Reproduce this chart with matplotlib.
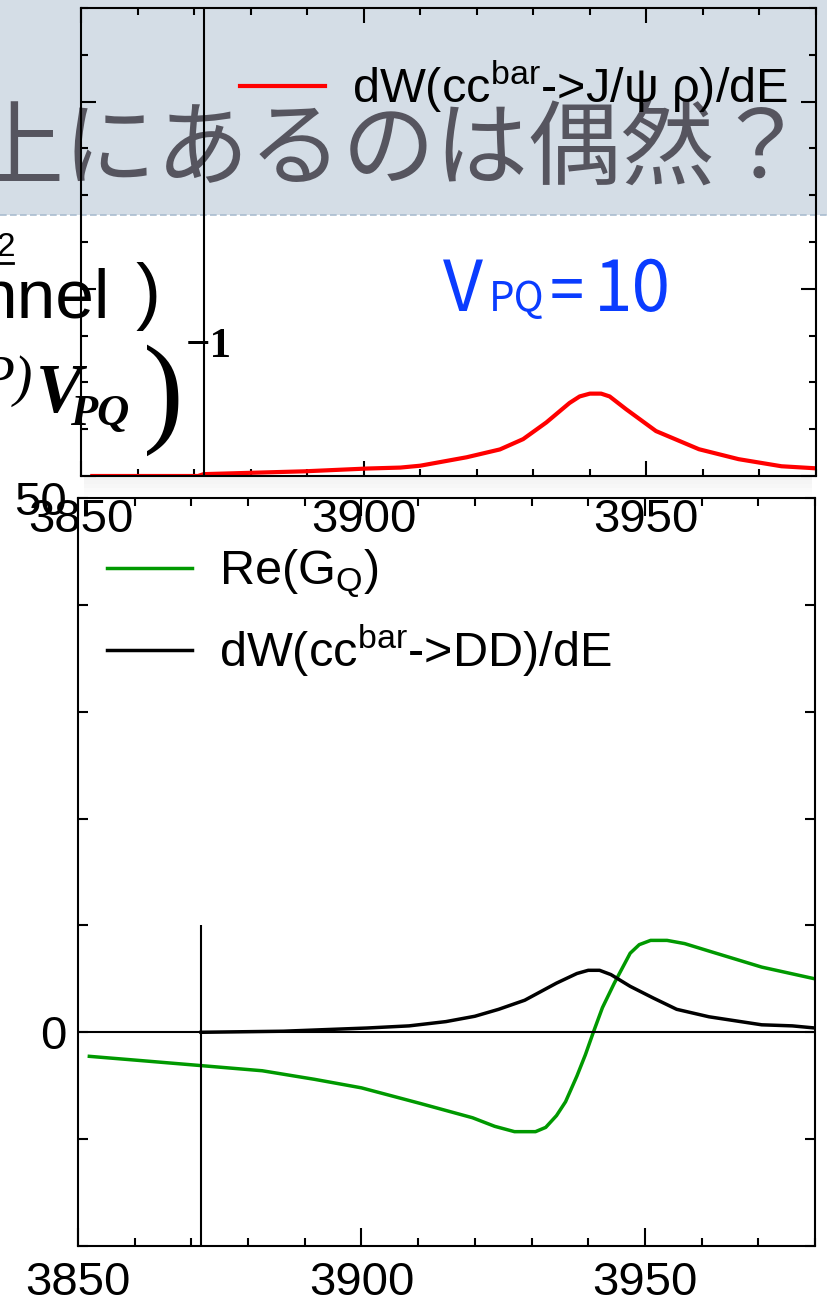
import matplotlib
matplotlib.use("Agg")
import matplotlib.pyplot as plt
from matplotlib.patches import Rectangle
from matplotlib.lines import Line2D
from matplotlib.ticker import MultipleLocator, FuncFormatter

plt.rcParams['font.family'] = ['Liberation Sans', 'DejaVu Sans']
plt.rcParams['mathtext.fontset'] = 'custom'
plt.rcParams['mathtext.rm'] = 'Liberation Sans'
plt.rcParams['mathtext.it'] = 'Liberation Sans:italic'
plt.rcParams['mathtext.bf'] = 'Liberation Sans:bold'

# 上段: dW(cc^bar -> J/psi rho)/dE  (V_PQ = 10)
e_jpsi = [3852, 3870.7, 3871.7, 3889.5, 3900.7, 3906.5, 3910, 3918.2, 3924.1, 3928.2,
          3932.3, 3936.4, 3938.2, 3940, 3942, 3943.5, 3946.4, 3951.7, 3959.3, 3966.3,
          3973.9, 3980]
w_jpsi = [0.0, 0.0, 0.01, 0.025, 0.04, 0.045, 0.055, 0.10, 0.142, 0.197,
          0.286, 0.39, 0.425, 0.44, 0.44, 0.425, 0.357, 0.24, 0.143, 0.09,
          0.052, 0.041]

# 下段: Re(G_Q)
e_g = [3852, 3860, 3871.3, 3882.5, 3891.7, 3900, 3910.3, 3919.6, 3923.5, 3927, 3930.7,
       3932.5, 3934.4, 3936, 3938, 3939.5, 3940.9, 3942.5, 3944.6, 3947.4, 3949, 3951,
       3953.9, 3957, 3961.3, 3970.6, 3980]
re_g = [-2.25, -2.6, -3.1, -3.6, -4.4, -5.2, -6.65, -8.0, -8.8, -9.3, -9.3,
        -8.9, -7.8, -6.5, -4.1, -2.1, 0.0, 2.3, 4.6, 7.4, 8.2, 8.6,
        8.6, 8.3, 7.6, 6.1, 5.0]

# 下段: dW(cc^bar -> DD)/dE
e_dd = [3871.7, 3886.2, 3901, 3908.4, 3914.9, 3920, 3924.2, 3928.8, 3934.4, 3938,
        3940, 3942, 3944, 3947.4, 3951.5, 3955.6, 3961.3, 3970.6, 3976, 3980]
w_dd = [0, 0.1, 0.4, 0.6, 1.0, 1.5, 2.15, 3.0, 4.6, 5.5,
        5.8, 5.8, 5.4, 4.3, 3.2, 2.15, 1.45, 0.7, 0.6, 0.4]

e_th = 3871.7   # しきい値の縦線

W, H = 827, 1308
def fx(px):
    return px / W
def fy(py):
    return 1 - py / H

fig = plt.figure(figsize=(8.27, 13.08), dpi=100)
fig.patch.set_facecolor('white')

# スライドのタイトル帯
fig.add_artist(Rectangle((0, fy(215)), 1, 215 / H, transform=fig.transFigure,
                         facecolor='#d4dde6', edgecolor='none', zorder=-2))
fig.add_artist(Line2D([0, 1], [fy(215), fy(215)], transform=fig.transFigure,
                      color='#a9bccf', lw=1.2, ls=(0, (4, 2)), zorder=-2))
# 上のパネルの下の影
for i, a in enumerate([0.05, 0.04, 0.03, 0.02, 0.01]):
    fig.add_artist(Rectangle((fx(84), fy(480 + 4 * i)), (812 - 84) / W, 4 / H,
                             transform=fig.transFigure, facecolor='black', alpha=a,
                             edgecolor='none', zorder=-1))
fig.text(fx(-30), fy(178), '上にあるのは偶然？', fontsize=67, color='#56555f',
         family=['Noto Sans CJK JP', 'DejaVu Sans'], va='baseline', zorder=-1)

# ---- 上のパネル
ax1 = fig.add_axes([fx(81), fy(476), (816 - 81) / W, (476 - 8) / H])
ax1.set_facecolor('none')
ax1.set_zorder(1)
ax1.plot(e_jpsi, w_jpsi, color='#ff0000', lw=3, label='dW(cc$^{\\mathrm{bar}}$->J/ψ ρ)/dE')
ax1.axvline(e_th, color='black', lw=1.5)
ax1.set_xlim(3850, 3980)
ax1.set_ylim(0, 2.5)
ax1.xaxis.set_major_locator(MultipleLocator(50))
ax1.xaxis.set_minor_locator(MultipleLocator(10))
ax1.yaxis.set_major_locator(MultipleLocator(1))
ax1.yaxis.set_minor_locator(MultipleLocator(0.25))
ax1.tick_params(which='both', direction='in', top=True, right=True, width=1.5,
                labelleft=False, labelsize=34, pad=16)
ax1.tick_params(which='major', length=11)
ax1.tick_params(which='minor', length=5)
for s in ax1.spines.values():
    s.set_linewidth(1.5)
ax1.legend(loc='upper left', bbox_to_anchor=(fx(240), fy(58)), bbox_transform=fig.transFigure,
           frameon=False, fontsize=35, handlelength=1.75, handletextpad=0.55,
           borderpad=0, borderaxespad=0)

# ---- 下のパネル
ax2 = fig.add_axes([fx(78), fy(1246), (815 - 78) / W, (1246 - 498) / H])
ax2.plot(e_g, re_g, color='#009900', lw=2.5, label=r'Re(G$_{\mathrm{Q}}$)')
ax2.plot(e_dd, w_dd, color='black', lw=2.5, label=r'dW(cc$^{\mathrm{bar}}$->DD)/dE')
ax2.axhline(0, color='black', lw=1.5)
ax2.vlines(e_th, -20, 10, color='black', lw=1.5)
ax2.set_xlim(3850, 3980)
ax2.set_ylim(-20, 50)
ax2.xaxis.set_major_locator(MultipleLocator(50))
ax2.xaxis.set_minor_locator(MultipleLocator(10))
ax2.yaxis.set_major_locator(MultipleLocator(10))
ax2.yaxis.set_major_formatter(FuncFormatter(lambda v, p: '%d' % v if v in (0, 50) else ''))
ax2.tick_params(which='both', direction='in', top=True, right=True, width=1.5, labelsize=34)
ax2.tick_params(axis='x', which='major', length=13, pad=11)
ax2.tick_params(axis='x', which='minor', length=6)
ax2.tick_params(axis='y', which='major', length=7, pad=8)
for s in ax2.spines.values():
    s.set_linewidth(1.5)
ax2.legend(loc='upper left', bbox_to_anchor=(fx(107), fy(548)), bbox_transform=fig.transFigure,
           frameon=False, fontsize=35, handlelength=1.75, handletextpad=0.55,
           labelspacing=0.45, borderpad=0, borderaxespad=0)

# ---- スライド側の文字 (切れた数式など)
fig.text(fx(-4), fy(256), '2', fontsize=24, va='baseline')
fig.add_artist(Line2D([fx(0), fx(13)], [fy(263), fy(263)], transform=fig.transFigure,
                      color='black', lw=2))
fig.text(fx(-22), fy(318), 'nnel', fontsize=50, va='baseline')
fig.text(fx(136), fy(316), ')', fontsize=54, va='baseline')
serif = ['Liberation Serif', 'DejaVu Serif']
fig.text(fx(-20), fy(395), 'P)', fontsize=40, family=serif, style='italic', va='baseline')
fig.text(fx(36), fy(412), 'V', fontsize=50, family=serif, style='italic', weight='bold', va='baseline')
fig.text(fx(70), fy(425), 'PQ', fontsize=32, family=serif, style='italic', weight='bold', va='baseline')
fig.text(fx(143), fy(430), ')', fontsize=88, family=serif, va='baseline')
fig.text(fx(186), fy(357), '\u22121', fontsize=31, family=serif, weight='bold', va='baseline')

blue = '#0a3cff'
cjk = ['Noto Sans CJK JP', 'DejaVu Sans']
fig.text(fx(443), fy(311), 'V', fontsize=50, color=blue, family=cjk, va='baseline')
fig.text(fx(489), fy(311), 'PQ', fontsize=29, color=blue, family=cjk, va='baseline')
fig.text(fx(550), fy(311), '=', fontsize=44, color=blue, family=cjk, va='baseline')
fig.text(fx(594), fy(311), '10', fontsize=50, color=blue, family=cjk, va='baseline')

fig.savefig('out.png', dpi=100)
